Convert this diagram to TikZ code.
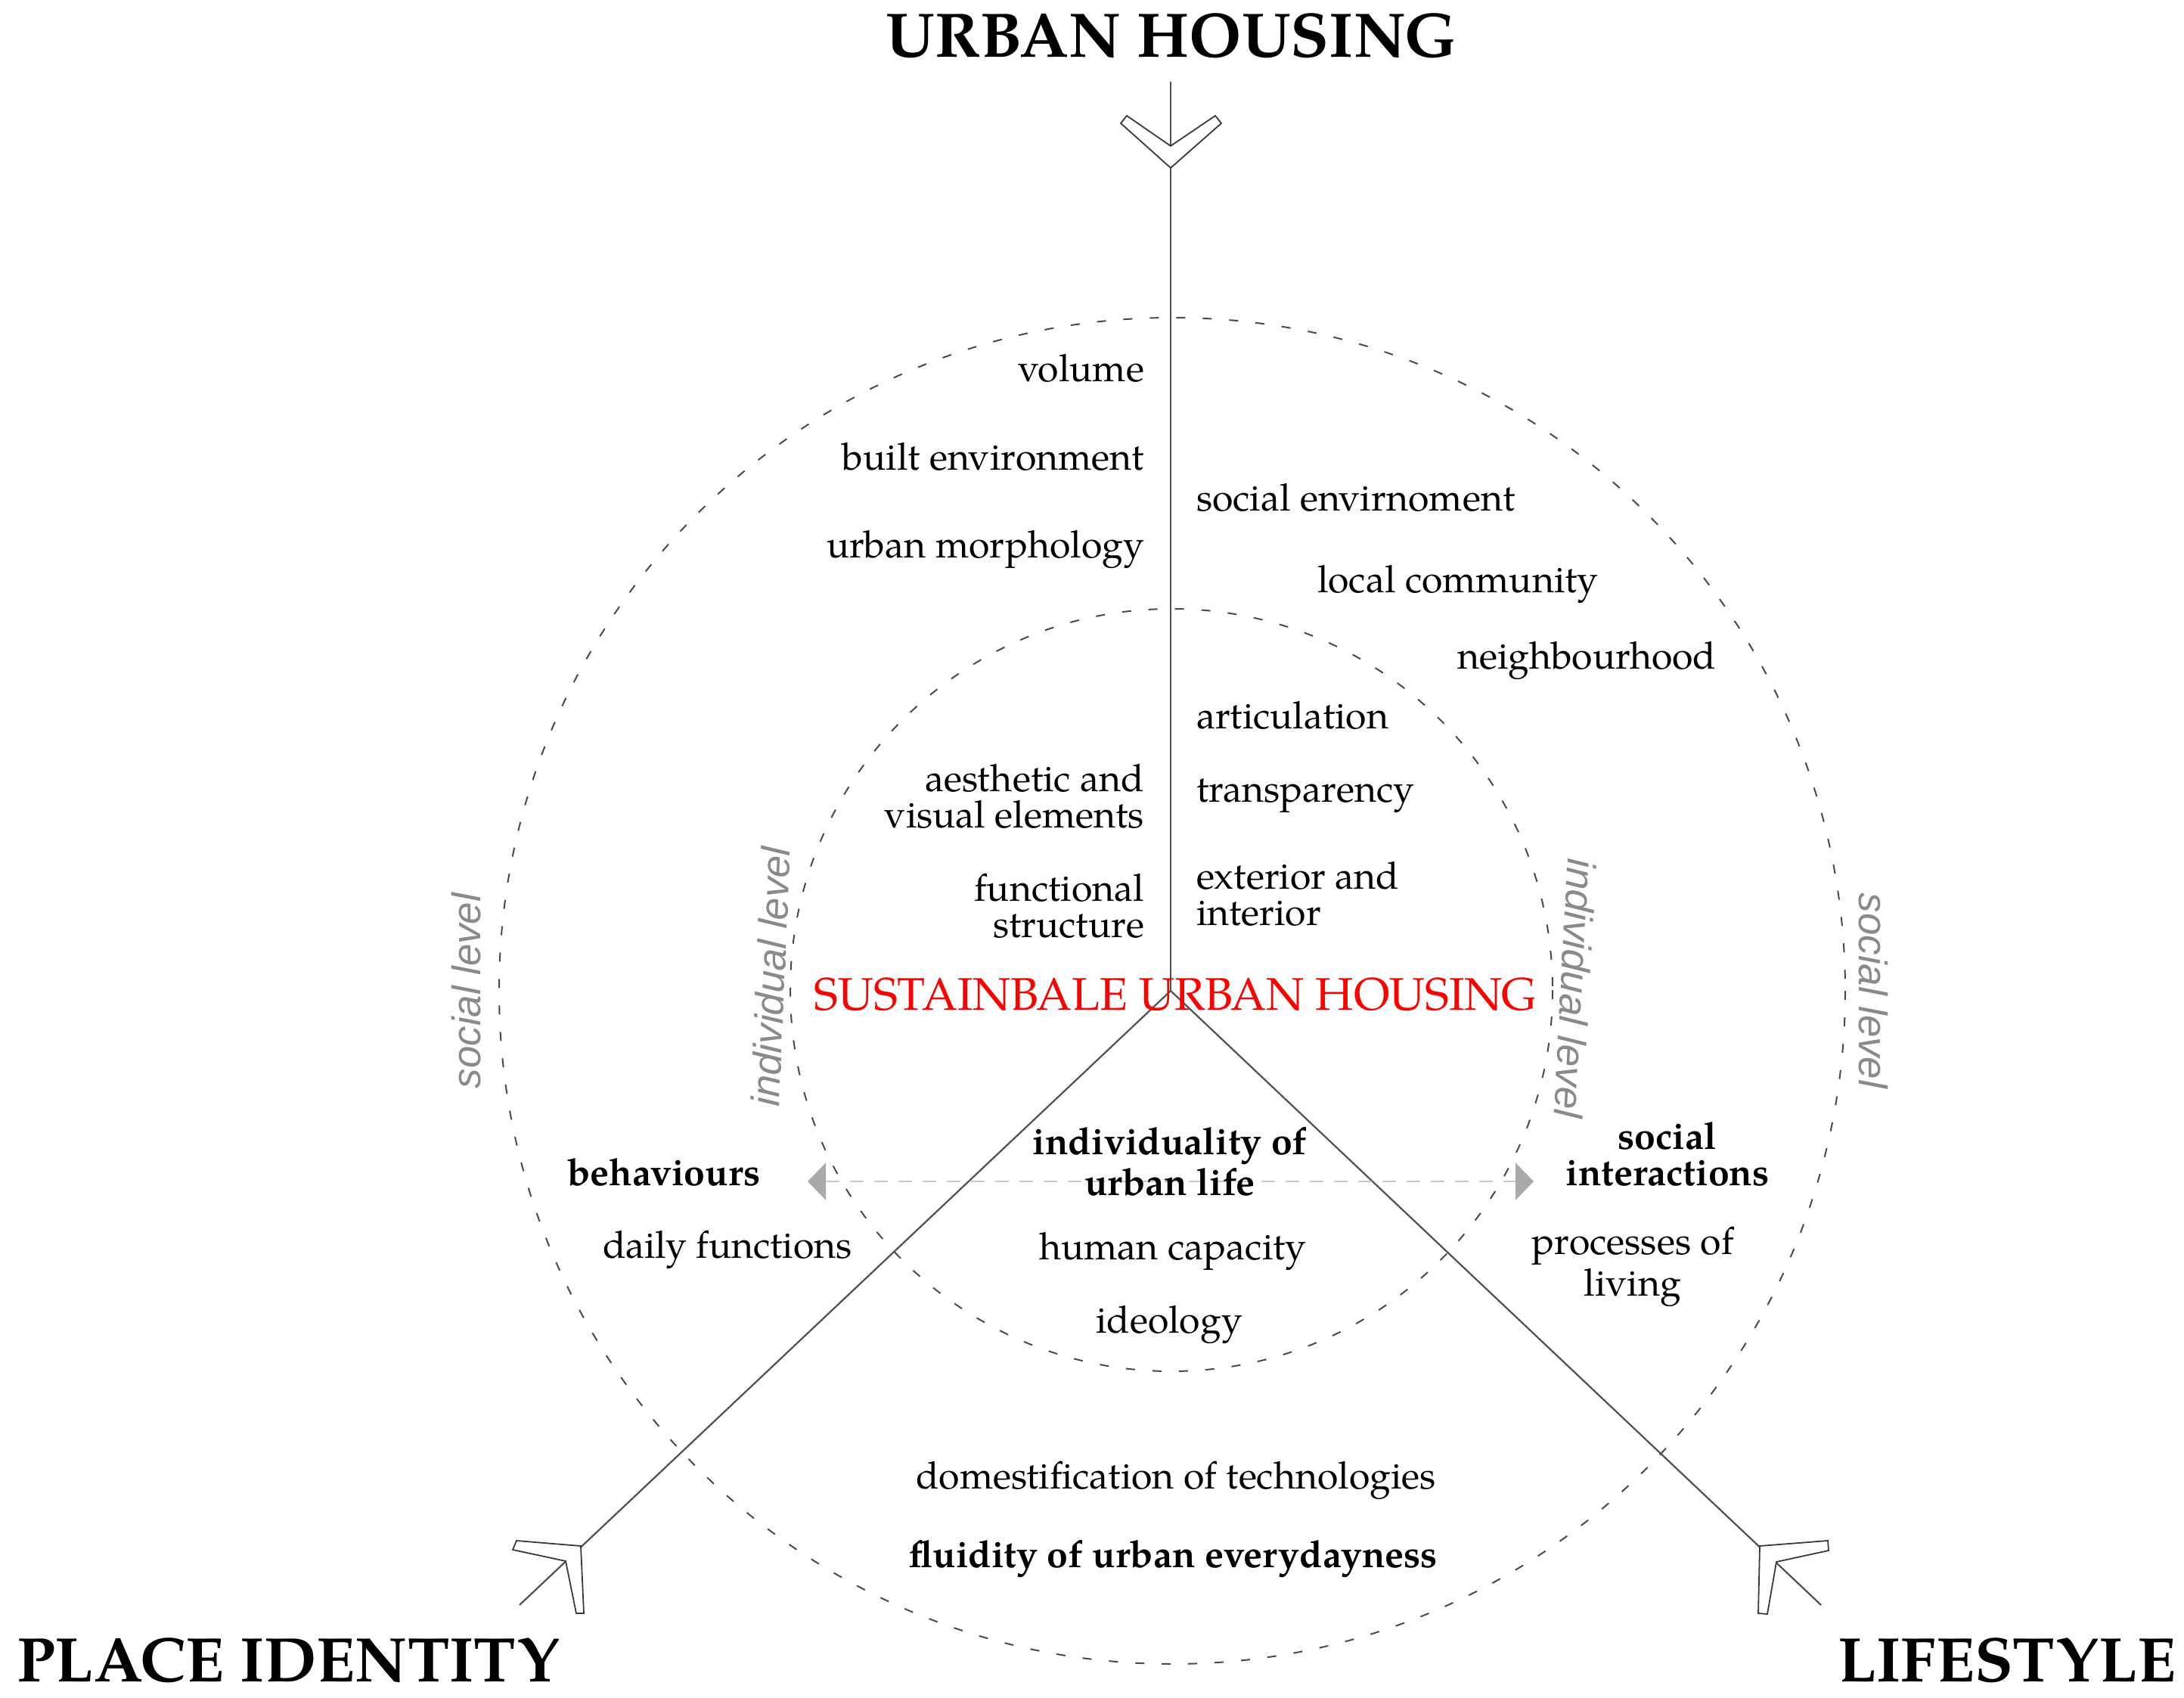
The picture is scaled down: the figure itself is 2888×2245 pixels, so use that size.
\documentclass[tikz,border=0pt]{standalone}
\usepackage{fontspec}
\setmainfont{texgyrepagella}[Extension=.otf,UprightFont=*-regular,BoldFont=*-bold,ItalicFont=*-italic,BoldItalicFont=*-bolditalic]
\newfontfamily\lvlfont{Liberation Sans}
\usetikzlibrary{arrows.meta}
\definecolor{axisgray}{HTML}{505050}
\definecolor{ringgray}{HTML}{4A4A4A}
\definecolor{chevgray}{HTML}{3A3A3A}
\definecolor{lvlgray}{HTML}{8A8A8A}
\definecolor{dashgray}{HTML}{C8C8C8}
\definecolor{tipgray}{HTML}{AAAAAA}
\definecolor{redtxt}{HTML}{FF0000}
\begin{document}
\begin{tikzpicture}[x=0.25pt,y=-0.25pt,
  txt/.style={inner sep=0pt,outer sep=0pt,font=\fontsize{12.5}{12}\selectfont},
  btxt/.style={inner sep=0pt,outer sep=0pt,font=\fontsize{12.5}{12}\selectfont\bfseries},
  titletxt/.style={inner sep=0pt,outer sep=0pt,font=\fontsize{20.8}{24}\selectfont\bfseries},
  lvl/.style={inner sep=0pt,outer sep=0pt,font=\lvlfont\itshape\fontsize{13.2}{14}\selectfont,text=lvlgray},
  ring/.style={draw=ringgray,line width=0.5pt,dash pattern=on 3pt off 5.75pt},
  axisline/.style={draw=axisgray,line width=0.55pt},
  chev/.style={draw=chevgray,line width=0.45pt,fill=white,line join=miter},
  dashlink/.style={draw=dashgray,line width=0.45pt,dash pattern=on 4.5pt off 3.5pt}
]
\useasboundingbox (0,0) rectangle (2888,2245);
\fill[white] (0,0) rectangle (2888,2245);

% key points
\coordinate (C) at (1548,1310);
\coordinate (eU) at (1548,108);
\coordinate (eL) at (687,2122);
\coordinate (eR) at (2408,2122);
\coordinate (aL) at (1068,1562);
\coordinate (aR) at (2028,1562);

% rings
\draw[ring] (1550,1310) circle[radius=890];
\draw[ring] (1549,1309) circle[radius=504];

% axes
\draw[axisline] (eU) -- (C);
\draw[axisline] (C) -- (eL);
\draw[axisline] (C) -- (eR);

% chevrons
\draw[chev] (1548,222) -- (1482,163) -- (1490,153) -- (1548,193) -- (1607,153) -- (1615,163) -- cycle;
\draw[chev] (768,2044) -- (683,2037) -- (678,2049) -- (748,2064) -- (762,2133) -- (772,2133) -- cycle;
\draw[chev] (2327,2044) -- (2417,2037) -- (2418,2050) -- (2349,2065) -- (2337,2134) -- (2325,2133) -- cycle;

% dashed double arrow
\draw[dashlink,{Triangle[length=6pt,width=12.25pt,color=tipgray]}-{Triangle[length=6pt,width=12.25pt,color=tipgray]}] (aL) -- (aR);

% titles
\node[titletxt,anchor=base] (tUH) at (1549,76) {URBAN HOUSING};
\node[titletxt,anchor=base west] (tPI) at (22,2223) {PLACE IDENTITY};
\node[titletxt,anchor=base east] (tLS) at (2877,2223) {LIFESTYLE};

% centre label
\node[inner sep=0pt,font=\fontsize{15.1}{16}\selectfont,text=redtxt,anchor=base] (suh) at (1554,1335) {SUSTAINBALE URBAN HOUSING};

% left column
\node[txt,anchor=base east] (vol) at (1513,505) {volume};
\node[txt,anchor=base east] (bui) at (1513,622) {built environment};
\node[txt,anchor=base east] (umo) at (1513,738) {urban morphology};
\node[txt,anchor=base east,align=right] (aes) at (1513,1094) {aesthetic and\\visual elements};
\node[txt,anchor=base east,align=right] (fun) at (1513,1239) {functional\\structure};

% right column
\node[txt,anchor=base west] (soc) at (1582,675) {social envirnoment};
\node[txt,anchor=base west] (loc) at (1742,784) {local community};
\node[txt,anchor=base west] (nei) at (1927,884) {neighbourhood};
\node[txt,anchor=base west] (art) at (1582,963) {articulation};
\node[txt,anchor=base west] (tra) at (1582,1060) {transparency};
\node[txt,anchor=base west,align=left] (ext) at (1582,1223) {exterior and\\interior};

% lower centre
\node[btxt,anchor=base,align=center] (ind) at (1547,1580) {individuality of\\urban life};
\node[txt,anchor=base] (hum) at (1551,1665) {human capacity};
\node[txt,anchor=base] (ide) at (1546,1762) {ideology};
\node[txt,anchor=base] (dom) at (1555,1968) {domestification of technologies};
\node[btxt,anchor=base] (flu) at (1552,2072) {fluidity of urban everydayness};

% sides
\node[btxt,anchor=base] (beh) at (878,1567) {behaviours};
\node[txt,anchor=base] (dai) at (962,1663) {daily functions};
\node[btxt,anchor=base,align=center] (sin) at (2205,1567) {social\\interactions};
\node[txt,anchor=base,align=center] (pro) at (2159,1713) {processes of\\living};

% level labels
\node[lvl,rotate=90] (slL) at (617,1310) {social level};
\node[lvl,rotate=87.5] (ilL) at (1019,1291) {individual level};
\node[lvl,rotate=-93] (ilR) at (2083,1307) {individual level};
\node[lvl,rotate=-90] (slR) at (2477,1310) {social level};
\end{tikzpicture}
\end{document}
